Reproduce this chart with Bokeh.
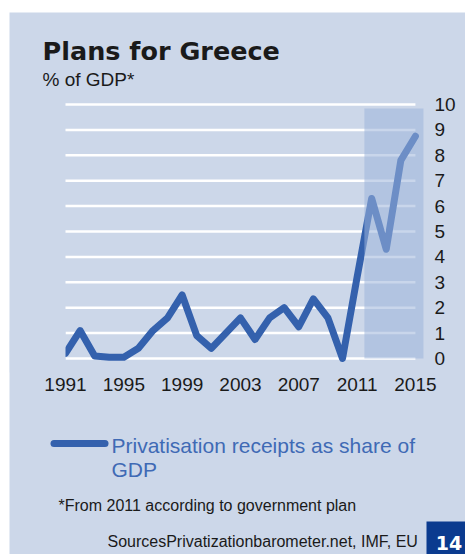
from bokeh.plotting import figure
from bokeh.models import Label, Range1d
from bokeh.core.properties import value
from bokeh.embed import file_html
from bokeh.resources import INLINE

# ---- data ----
years = list(range(1991, 2016))
receipts = [0.2, 1.1, 0.1, 0.05, 0.05, 0.4, 1.1, 1.6, 2.5, 0.9,
            0.4, 1.0, 1.6, 0.75, 1.6, 2.0, 1.25, 2.35, 1.6, 0.0,
            3.2, 6.3, 4.3, 7.8, 8.75]
x_ticks = [1991, 1995, 1999, 2003, 2007, 2011, 2015]
x_tick_labels = ["1991", "1995", "1999", "2003", "2007", "2011", "2015"]
y_ticks = [0, 1, 2, 3, 4, 5, 6, 7, 8, 9, 10]
y_tick_labels = ["0", "1", "2", "3", "4", "5", "6", "7", "8", "9", "10"]
plan_start = 2011.5
plan_end = 2015.55
plan_top = 9.84

title_text = "Plans for Greece"
subtitle_text = "% of GDP*"
legend_lines = ["Privatisation receipts as share of", "GDP"]
footnote_text = "*From 2011 according to government plan"
source_text = "SourcesPrivatizationbarometer.net, IMF, EU"
page_text = "14"

# ---- layout constants (page pixels) ----
CANVAS_L, CANVAS_T, W, H = 9, 12, 456, 542
X0_PX, PX_YR = 65, 14.58      # page x of first year, px per year
Y0_PX, PX_VAL = 358, 25.4     # page y of value 0, px per unit


def dx(px):
    return years[0] + (px - X0_PX) / PX_YR


def dy(py):
    return (Y0_PX - py) / PX_VAL


PANEL = "#ccd7e9"
LINE = "#3461ad"
INK = "#1a1a1a"
FONT = value("Liberation Sans")

p = figure(width=W, height=H, output_backend="svg", toolbar_location=None,
           x_range=Range1d(dx(CANVAS_L), dx(CANVAS_L + W)),
           y_range=Range1d(dy(CANVAS_T + H), dy(CANVAS_T)),
           min_border=0, x_axis_location=None, y_axis_location=None)
p.styles = {"margin-top": f"{CANVAS_T}px", "margin-left": f"{CANVAS_L}px"}
p.background_fill_color = PANEL
p.border_fill_color = PANEL
p.outline_line_color = None
p.xgrid.visible = False
p.ygrid.visible = False

# grid lines
p.segment(x0=[years[0]] * len(y_ticks), y0=y_ticks,
          x1=[years[-1]] * len(y_ticks), y1=y_ticks,
          line_color="white", line_width=2.5)

# data line
p.line(years, receipts, line_width=7, line_color=LINE,
       line_join="round", line_cap="round")
# clip the line at the first year, as the frame edge does in the original
p.quad(left=[dx(CANVAS_L)], right=[years[0]], bottom=[dy(372)], top=[dy(330)],
       fill_color=PANEL, line_color=None)

# planned period shading
p.quad(left=[plan_start], right=[plan_end], bottom=[0], top=[plan_top],
       fill_color="#9db4da", fill_alpha=0.55, line_color=None)

# axis tick labels
p.text(x=x_ticks, y=[dy(383.5)] * len(x_ticks), text=x_tick_labels,
       text_font=FONT, text_font_size="19px", text_color=INK,
       text_align="center", text_baseline="middle")
p.text(x=[dx(434)] * len(y_ticks), y=y_ticks, text=y_tick_labels,
       text_font=FONT, text_font_size="19px", text_color=INK,
       text_align="left", text_baseline="middle")

# legend
p.line(x=[dx(53.5), dx(104.5)], y=[dy(443), dy(443)], line_width=7,
       line_color=LINE, line_cap="round")


def lab(px, py, text, **kw):
    p.add_layout(Label(x=px - CANVAS_L, y=CANVAS_T + H - py,
                       x_units="screen", y_units="screen", text=text,
                       text_baseline="middle", **kw))


lab(42, 50.5, title_text, text_font="DejaVu Sans", text_font_style="bold",
    text_font_size="25.5px", text_color=INK)
lab(42, 79, subtitle_text, text_font="Liberation Sans",
    text_font_size="19px", text_color=INK)
lab(111, 445, legend_lines[0], text_font="Liberation Sans",
    text_font_size="21px", text_color="#3f6ab5")
lab(111, 468.5, legend_lines[1], text_font="Liberation Sans",
    text_font_size="21px", text_color="#3f6ab5")
lab(58, 504.5, footnote_text, text_font="Liberation Sans",
    text_font_size="16px", text_color=INK)
lab(107, 540.5, source_text, text_font="Liberation Sans",
    text_font_size="16px", text_color=INK)

# page number box
p.quad(left=[dx(426)], right=[dx(CANVAS_L + W)], bottom=[dy(CANVAS_T + H)],
       top=[dy(521)], fill_color="#0b3b8f", line_color=None)
lab(448.5, 542, page_text, text_font="DejaVu Sans", text_font_style="bold",
    text_font_size="19px", text_color="white", text_align="center")

open("out.html", "w").write(file_html(p, INLINE))
